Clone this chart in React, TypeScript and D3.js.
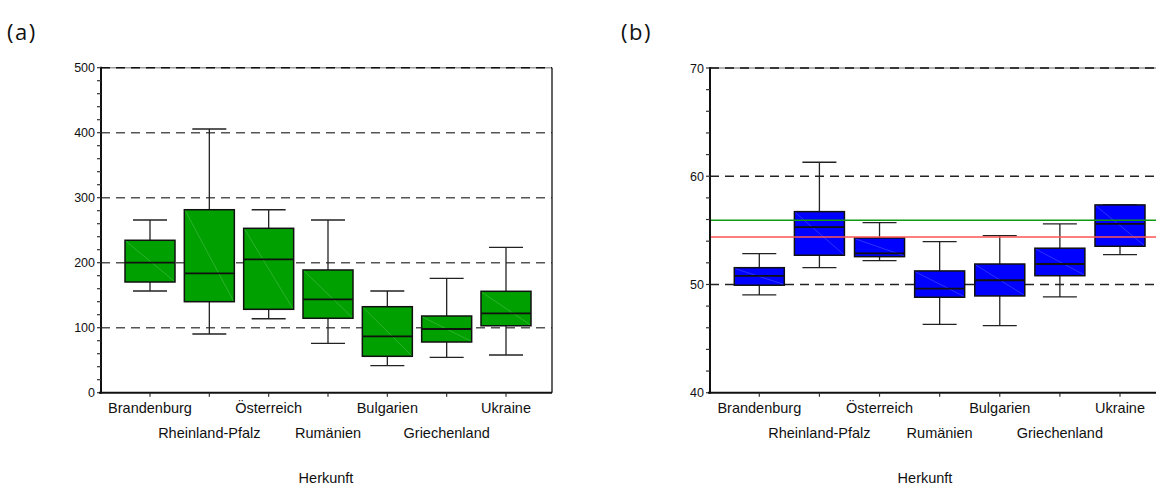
import React from "react";
import * as d3 from "d3";

// Herkunft (origin) categories shared by both panels
const categories = [
  "Brandenburg",
  "Rheinland-Pfalz",
  "Österreich",
  "Rumänien",
  "Bulgarien",
  "Griechenland",
  "Ukraine",
];

// Panel (a): box statistics per origin
const aWhiskerLow = [156.5, 90.3, 113.8, 76, 41.6, 54.4, 58];
const aQ1 = [170.3, 140, 128.3, 114.5, 56, 78, 103];
const aMedian = [200, 183.7, 205.2, 143.7, 86.7, 98, 122];
const aQ3 = [234.5, 281.5, 252.9, 188.8, 132.3, 118, 156];
const aWhiskerHigh = [265.7, 405.7, 281.5, 265.7, 156.5, 176, 223.7];
const aMajorTicks = [0, 100, 200, 300, 400, 500];
const aGridLines = [100, 200, 300, 400];

// Panel (b): box statistics per origin
const bWhiskerLow = [49.03, 51.55, 52.2, 46.32, 46.19, 48.85, 52.75];
const bQ1 = [49.93, 52.7, 52.57, 48.82, 48.94, 50.81, 53.53];
const bMedian = [50.79, 55.29, 52.88, 49.61, 50.39, 51.89, 55.59];
const bQ3 = [51.55, 56.73, 54.3, 51.25, 51.89, 53.35, 57.35];
const bWhiskerHigh = [52.85, 61.29, 55.71, 53.96, 54.51, 55.59, 57.35];
const bMajorTicks = [40, 50, 60, 70];
const bGridLines = [50, 60];
const bReferenceGreen = 55.94;
const bReferenceRed = 54.39;

const AXIS_FONT = "'Liberation Sans', Arial, sans-serif";
const PANEL_FONT = "'Open Sans', 'Noto Sans', sans-serif";

type PanelProps = {
  left: number;
  right: number;
  top: number;
  bottom: number;
  firstCenter: number;
  lastCenter: number;
  domain: [number, number];
  majorTicks: number[];
  minorStep: number;
  gridLines: number[];
  gridColor: string;
  low: number[];
  q1: number[];
  median: number[];
  q3: number[];
  high: number[];
  fill: string;
  diagonal: string;
  rightBorder: boolean;
  refLines?: { value: number; color: string }[];
};

function BoxPanel(p: PanelProps) {
  const y = d3.scaleLinear().domain(p.domain).range([p.bottom, p.top]);
  const x = d3
    .scalePoint<string>()
    .domain(categories)
    .range([p.firstCenter, p.lastCenter]);
  const boxW = 50;
  const capW = 34;
  const minor = d3.range(p.domain[0], p.domain[1] + 1e-9, p.minorStep);

  return (
    <g>
      {/* dashed horizontal grid */}
      {p.gridLines.map((v) => (
        <line
          key={"g" + v}
          x1={p.left}
          x2={p.right}
          y1={y(v)}
          y2={y(v)}
          stroke={p.gridColor}
          strokeWidth={1.4}
          strokeDasharray="9,6"
        />
      ))}
      {/* top frame line */}
      <line
        x1={p.left}
        x2={p.right}
        y1={y(p.domain[1])}
        y2={y(p.domain[1])}
        stroke="#9a9a9a"
        strokeWidth={1.6}
      />
      <line
        x1={p.left}
        x2={p.right}
        y1={y(p.domain[1])}
        y2={y(p.domain[1])}
        stroke="#111"
        strokeWidth={1.6}
        strokeDasharray="9,6"
      />
      {p.rightBorder && (
        <line
          x1={p.right}
          x2={p.right}
          y1={p.top}
          y2={p.bottom}
          stroke="#222"
          strokeWidth={1.4}
        />
      )}

      {/* boxes */}
      {categories.map((c, i) => {
        const cx = x(c) as number;
        const yTop = y(p.q3[i]);
        const yBot = y(p.q1[i]);
        return (
          <g key={c}>
            <line
              x1={cx}
              x2={cx}
              y1={y(p.high[i])}
              y2={yTop}
              stroke="#222"
              strokeWidth={1.3}
            />
            <line
              x1={cx}
              x2={cx}
              y1={yBot}
              y2={y(p.low[i])}
              stroke="#222"
              strokeWidth={1.3}
            />
            <line
              x1={cx - capW / 2}
              x2={cx + capW / 2}
              y1={y(p.high[i])}
              y2={y(p.high[i])}
              stroke="#222"
              strokeWidth={1.3}
            />
            <line
              x1={cx - capW / 2}
              x2={cx + capW / 2}
              y1={y(p.low[i])}
              y2={y(p.low[i])}
              stroke="#222"
              strokeWidth={1.3}
            />
            <rect
              x={cx - boxW / 2}
              y={yTop}
              width={boxW}
              height={yBot - yTop}
              fill={p.fill}
              stroke="#111"
              strokeWidth={1.5}
            />
            <line
              x1={cx - boxW / 2 + 1}
              y1={yTop + 1}
              x2={cx + boxW / 2 - 1}
              y2={yBot - 1}
              stroke={p.diagonal}
              strokeWidth={0.5}
              strokeOpacity={0.7}
            />
            <line
              x1={cx - boxW / 2}
              x2={cx + boxW / 2}
              y1={y(p.median[i])}
              y2={y(p.median[i])}
              stroke="#111"
              strokeWidth={1.8}
            />
          </g>
        );
      })}

      {/* reference lines */}
      {(p.refLines || []).map((r) => (
        <line
          key={r.color}
          x1={p.left}
          x2={p.right}
          y1={y(r.value)}
          y2={y(r.value)}
          stroke={r.color}
          strokeWidth={1.5}
        />
      ))}

      {/* y axis */}
      <line
        x1={p.left}
        x2={p.left}
        y1={p.top - 1}
        y2={p.bottom + 1}
        stroke="#111"
        strokeWidth={2}
      />
      {minor.map((v) => (
        <line
          key={"m" + v}
          x1={p.left - 4}
          x2={p.left}
          y1={y(v)}
          y2={y(v)}
          stroke="#333"
          strokeWidth={1.2}
        />
      ))}
      {p.majorTicks.map((v) => (
        <text
          key={"t" + v}
          x={p.left - 6}
          y={y(v)}
          dy="0.36em"
          textAnchor="end"
          fontFamily={AXIS_FONT}
          fontSize={12.5}
          fill="#111"
        >
          {v}
        </text>
      ))}

      {/* x axis */}
      <line
        x1={p.left - 2}
        x2={p.right}
        y1={p.bottom}
        y2={p.bottom}
        stroke="#111"
        strokeWidth={2}
      />
      {categories.map((c, i) => (
        <g key={"x" + c}>
          <line
            x1={x(c) as number}
            x2={x(c) as number}
            y1={p.bottom}
            y2={p.bottom + 4}
            stroke="#333"
            strokeWidth={1.2}
          />
          <text
            x={x(c) as number}
            y={i % 2 === 0 ? 408 : 433}
            dy="0.36em"
            textAnchor="middle"
            fontFamily={AXIS_FONT}
            fontSize={14.5}
            fill="#111"
          >
            {c}
          </text>
        </g>
      ))}
    </g>
  );
}

export default function App() {
  return (
    <svg
      width={1156}
      height={485}
      style={{ position: "absolute", left: 0, top: 0, background: "#fff" }}
    >
      <text
        x={7}
        y={40}
        fontFamily={PANEL_FONT}
        fontSize={22}
        letterSpacing={1.5}
        fill="#111"
      >
        (a)
      </text>
      <text
        x={621}
        y={40}
        fontFamily={PANEL_FONT}
        fontSize={22}
        letterSpacing={1.5}
        fill="#111"
      >
        (b)
      </text>

      <BoxPanel
        left={101}
        right={552}
        top={67.7}
        bottom={392.7}
        firstCenter={150}
        lastCenter={506}
        domain={[0, 500]}
        majorTicks={aMajorTicks}
        minorStep={20}
        gridLines={aGridLines}
        gridColor="#555"
        low={aWhiskerLow}
        q1={aQ1}
        median={aMedian}
        q3={aQ3}
        high={aWhiskerHigh}
        fill="#00a000"
        diagonal="#7fd27f"
        rightBorder={true}
      />
      <BoxPanel
        left={710}
        right={1160}
        top={68}
        bottom={392.7}
        firstCenter={759.3}
        lastCenter={1120}
        domain={[40, 70]}
        majorTicks={bMajorTicks}
        minorStep={2}
        gridLines={bGridLines}
        gridColor="#222"
        low={bWhiskerLow}
        q1={bQ1}
        median={bMedian}
        q3={bQ3}
        high={bWhiskerHigh}
        fill="#0000ff"
        diagonal="#7a8cff"
        rightBorder={false}
        refLines={[
          { value: bReferenceGreen, color: "#109a10" },
          { value: bReferenceRed, color: "#ff5555" },
        ]}
      />

      <text
        x={326}
        y={478}
        dy="0.36em"
        textAnchor="middle"
        fontFamily={AXIS_FONT}
        fontSize={14.5}
        fill="#111"
      >
        Herkunft
      </text>
      <text
        x={925}
        y={478}
        dy="0.36em"
        textAnchor="middle"
        fontFamily={AXIS_FONT}
        fontSize={14.5}
        fill="#111"
      >
        Herkunft
      </text>
    </svg>
  );
}
